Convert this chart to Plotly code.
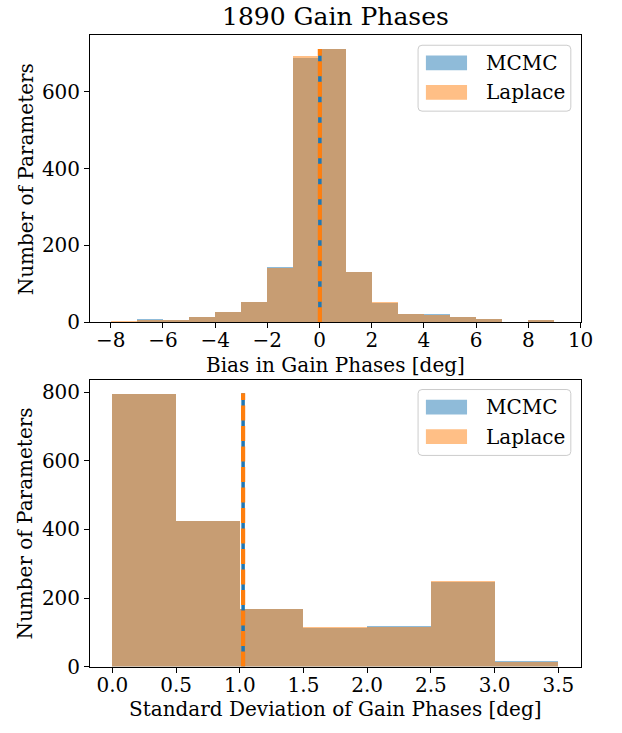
import plotly.graph_objects as go

# ---- data -------------------------------------------------------------
# Bias histogram (1 deg bins from -8 to 9)
bias_edges = [-8, -7, -6, -5, -4, -3, -2, -1, 0, 1, 2, 3, 4, 5, 6, 7, 8, 9]
bias_mcmc = [1, 7, 6, 14, 26, 52, 142, 688, 711, 130, 49, 20, 20, 12, 7, 1, 4]
bias_laplace = [2, 6, 6, 14, 26, 52, 140, 692, 709, 131, 51, 20, 17, 12, 7, 1, 4]
bias_mean_mcmc = 0.012
bias_mean_laplace = 0.012

# Standard-deviation histogram (0.5 deg bins from 0 to 3.5)
std_edges = [0.0, 0.5, 1.0, 1.5, 2.0, 2.5, 3.0, 3.5]
std_mcmc = [795, 425, 170, 115, 120, 249, 16]
std_laplace = [797, 426, 168, 117, 116, 252, 14]
std_mean_mcmc = 1.026
std_mean_laplace = 1.026

title_text = "1890 Gain Phases"
series_names = ["MCMC", "Laplace"]

# ---- styling ----------------------------------------------------------
W, H = 622, 733
FONT = "DejaVu Serif"
BLUE = "#1f77b4"
ORANGE = "#ff7f0e"
BLUE_A = "rgba(31,119,180,0.5)"
ORANGE_A = "rgba(255,127,14,0.5)"

# axes boxes in pixels: (left, top, right, bottom)
top_box = (92, 36, 593, 327.7)
bot_box = (92, 386, 593, 677.7)


def xdom(b):
    return [b[0] / W, b[2] / W]


def ydom(b):
    return [(H - b[3]) / H, (H - b[1]) / H]


def px(x):
    return x / W


def py(y):
    return (H - y) / H


fig = go.Figure()


def add_hist(edges, counts_a, counts_b, mean_a, mean_b, xa, ya):
    centers = [(edges[i] + edges[i + 1]) / 2 for i in range(len(edges) - 1)]
    widths = [edges[i + 1] - edges[i] for i in range(len(edges) - 1)]
    for counts, col, name in ((counts_a, BLUE_A, series_names[0]),
                              (counts_b, ORANGE_A, series_names[1])):
        fig.add_trace(go.Bar(
            x=centers, y=counts, width=widths, name=name,
            marker=dict(color=col, line=dict(width=0)),
            xaxis=xa, yaxis=ya, showlegend=False))
    top = max(max(counts_a), max(counts_b))
    # mean markers: MCMC solid underneath, Laplace dashed on top
    fig.add_trace(go.Scatter(
        x=[mean_a, mean_a], y=[0, top], mode="lines",
        line=dict(color=BLUE, width=3.5), xaxis=xa, yaxis=ya,
        showlegend=False, hoverinfo="skip"))
    fig.add_trace(go.Scatter(
        x=[mean_b, mean_b], y=[0, top], mode="lines",
        line=dict(color=ORANGE, width=4.2, dash="15px,5.5px"),
        xaxis=xa, yaxis=ya, showlegend=False, hoverinfo="skip"))


add_hist(bias_edges, bias_mcmc, bias_laplace,
         bias_mean_mcmc, bias_mean_laplace, "x", "y")
add_hist(std_edges, std_mcmc, std_laplace,
         std_mean_mcmc, std_mean_laplace, "x2", "y2")

axis_common = dict(
    showline=True, linecolor="black", linewidth=1, mirror=True,
    ticks="outside", ticklen=5, tickwidth=1, tickcolor="black",
    showgrid=False, zeroline=False,
    tickfont=dict(family=FONT, size=20, color="black"),
)

top_ymax = max(max(bias_mcmc), max(bias_laplace)) * 1.05
bot_ymax = max(max(std_mcmc), max(std_laplace)) * 1.05

fig.update_layout(
    width=W, height=H,
    margin=dict(l=0, r=0, t=0, b=0),
    paper_bgcolor="white", plot_bgcolor="white",
    barmode="overlay", bargap=0,
    font=dict(family=FONT, color="black"),
    xaxis=dict(domain=xdom(top_box), anchor="y", range=[-8.79, 10],
               tickvals=[-8, -6, -4, -2, 0, 2, 4, 6, 8, 10],
               ticklabelstandoff=-5, **axis_common),
    yaxis=dict(domain=ydom(top_box), anchor="x", range=[0, top_ymax],
               tickvals=[0, 200, 400, 600], **axis_common),
    xaxis2=dict(domain=xdom(bot_box), anchor="y2", range=[-0.175, 3.675],
                tickvals=[0, 0.5, 1, 1.5, 2, 2.5, 3, 3.5],
                ticktext=["0.0", "0.5", "1.0", "1.5", "2.0", "2.5", "3.0", "3.5"],
                ticklabelstandoff=-5, **axis_common),
    yaxis2=dict(domain=ydom(bot_box), anchor="x2", range=[0, bot_ymax],
                tickvals=[0, 200, 400, 600, 800], **axis_common),
)

annotations = []
shapes = []

# title and axis titles
annotations.append(dict(
    text=title_text, x=px((top_box[0] + top_box[2]) / 2), y=py(17),
    xref="paper", yref="paper", showarrow=False, xanchor="center",
    yanchor="middle", font=dict(family=FONT, size=25, color="black")))
for box, label, ly in ((top_box, "Bias in Gain Phases [deg]", 371),
                       (bot_box, "Standard Deviation of Gain Phases [deg]", 721)):
    annotations.append(dict(
        text=label, x=px((box[0] + box[2]) / 2), y=py(ly),
        xref="paper", yref="paper", showarrow=False, xanchor="center",
        yanchor="middle", font=dict(family=FONT, size=20, color="black")))
    annotations.append(dict(
        text="Number of Parameters", x=px(26), y=py((box[1] + box[3]) / 2),
        xref="paper", yref="paper", showarrow=False, xanchor="center",
        yanchor="middle", textangle=-90,
        font=dict(family=FONT, size=20, color="black")))


def rounded_rect(x0, y0, x1, y1, r):
    X0, X1 = px(x0), px(x1)
    Y0, Y1 = py(y0), py(y1)
    rx, ry = r / W, r / H
    return (f"M {X0 + rx},{Y0} L {X1 - rx},{Y0} Q {X1},{Y0} {X1},{Y0 - ry} "
            f"L {X1},{Y1 + ry} Q {X1},{Y1} {X1 - rx},{Y1} "
            f"L {X0 + rx},{Y1} Q {X0},{Y1} {X0},{Y1 + ry} "
            f"L {X0},{Y0 - ry} Q {X0},{Y0} {X0 + rx},{Y0} Z")


# legend boxes (upper right inside each axes)
for box in (top_box, bot_box):
    lx0, lx1 = 427, 583
    ly0 = box[1] + 10
    ly1 = ly0 + 67
    shapes.append(dict(type="path", path=rounded_rect(lx0, ly0, lx1, ly1, 4),
                       xref="paper", yref="paper",
                       fillcolor="rgba(255,255,255,0.8)",
                       line=dict(color="#cccccc", width=1)))
    for k, (name, col) in enumerate(zip(series_names, (BLUE_A, ORANGE_A))):
        cy = ly0 + 18 + 30 * k
        shapes.append(dict(type="rect", xref="paper", yref="paper",
                           x0=px(435), x1=px(477), y0=py(cy - 7.5), y1=py(cy + 7.5),
                           fillcolor=col, line=dict(width=0)))
        annotations.append(dict(
            text=name, x=px(494), y=py(cy), xref="paper", yref="paper",
            showarrow=False, xanchor="left", yanchor="middle",
            font=dict(family=FONT, size=20, color="black")))

fig.update_layout(annotations=annotations, shapes=shapes)
fig.write_html("out.html")
